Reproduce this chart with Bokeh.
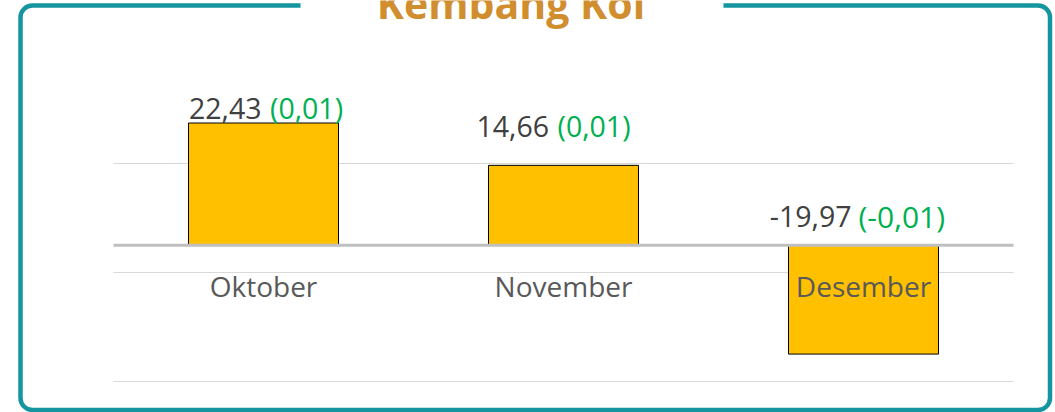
from bokeh.plotting import figure
from bokeh.models import ColumnDataSource, BoxAnnotation, Label, Range1d
from bokeh.core.properties import value
from bokeh.embed import file_html
from bokeh.resources import INLINE

# ---- data ----
months = ["Oktober", "November", "Desember"]
prices = [22.43, 14.66, -19.97]
changes = [0.01, 0.01, -0.01]
grid_ticks = [-25, -5, 15]
title_text = "Kembang Kol"

# ---- label styling (pixel offsets, not data) ----
label_dy = [-15, -39, -29]
num_dx = [-2, -14.5, -12]
grn_dx = [6.5, -6, -5]
grn_size = ["28.5px", "28.5px", "30px"]

# ---- geometry helpers (page pixels -> data) ----
W, H = 1055, 412
PLOT_L, PLOT_R = 113, 1013
ZERO_Y, PX_PER_UNIT = 244.75, 5.45
n = len(months)
px_per_cat = (PLOT_R - PLOT_L) / n


def dx(px):
    return (px - PLOT_L) / px_per_cat


def dy(py):
    return (ZERO_Y - py) / PX_PER_UNIT


def fmt(v):
    return f"{v:.2f}".replace(".", ",")


xs = [i + 0.5 for i in range(n)]
src = ColumnDataSource(dict(
    x=xs,
    top=prices,
    month=months,
    anchor=[max(v, 0) for v in prices],
    num=[fmt(v) for v in prices],
    chg=["(" + fmt(c) + ")" for c in changes],
    ldy=label_dy,
    ndx=num_dx,
    gdx=grn_dx,
    gsize=grn_size,
))

p = figure(width=W, height=H,
           x_range=Range1d(dx(0), dx(W)), y_range=Range1d(dy(H), dy(0)),
           output_backend="svg", toolbar_location=None,
           x_axis_location=None, y_axis_location=None,
           min_border=0, outline_line_color=None,
           background_fill_color="white", border_fill_color="white",
           margin=(0, 0, 0, 0))
p.grid.visible = False

# gridlines
p.segment(x0=[0] * len(grid_ticks), x1=[n] * len(grid_ticks),
          y0=grid_ticks, y1=grid_ticks, line_color="#D9D9D9", line_width=1)

# bars
p.vbar(x="x", top="top", bottom=0, width=0.5, source=src,
       fill_color="#FFC000", line_color="#000000", line_width=1)

# zero line
p.segment(x0=[0], x1=[n], y0=[0], y1=[0], line_color="#BFBFBF", line_width=3)

# category labels at the zero line
p.text(x="x", y=0, text="month", source=src, text_font=value("Open Sans"),
       text_font_size="28px", text_color="#595959", text_align="center",
       text_baseline="alphabetic", y_offset=41)

# value labels
p.text(x="x", y="anchor", text="num", source=src, x_offset="ndx", y_offset="ldy",
       text_font=value("Open Sans"), text_font_size="28.5px", text_color="#404040",
       text_align="right", text_baseline="alphabetic")
p.text(x="x", y="anchor", text="chg", source=src, x_offset="gdx", y_offset="ldy",
       text_font=value("Open Sans"), text_font_size="gsize", text_color="#00B050",
       text_align="left", text_baseline="alphabetic")

# rounded frame
p.add_layout(BoxAnnotation(left=dx(20), right=dx(1049.5), top=dy(5), bottom=dy(409.5),
                           fill_color=None, fill_alpha=0, line_color="#15959F",
                           line_alpha=1.0, line_width=4.5, border_radius=12))
p.add_layout(BoxAnnotation(left=dx(300), right=dx(723), top=dy(-2), bottom=dy(14),
                           fill_color="white", fill_alpha=1, line_color=None))
p.add_layout(Label(x=dx(510.5), y=dy(2), text=title_text, text_font="Open Sans",
                   text_font_style="bold", text_font_size="41px", text_color="#D08E2F",
                   text_align="center", text_baseline="alphabetic"))

open("out.html", "w").write(file_html(p, INLINE))
